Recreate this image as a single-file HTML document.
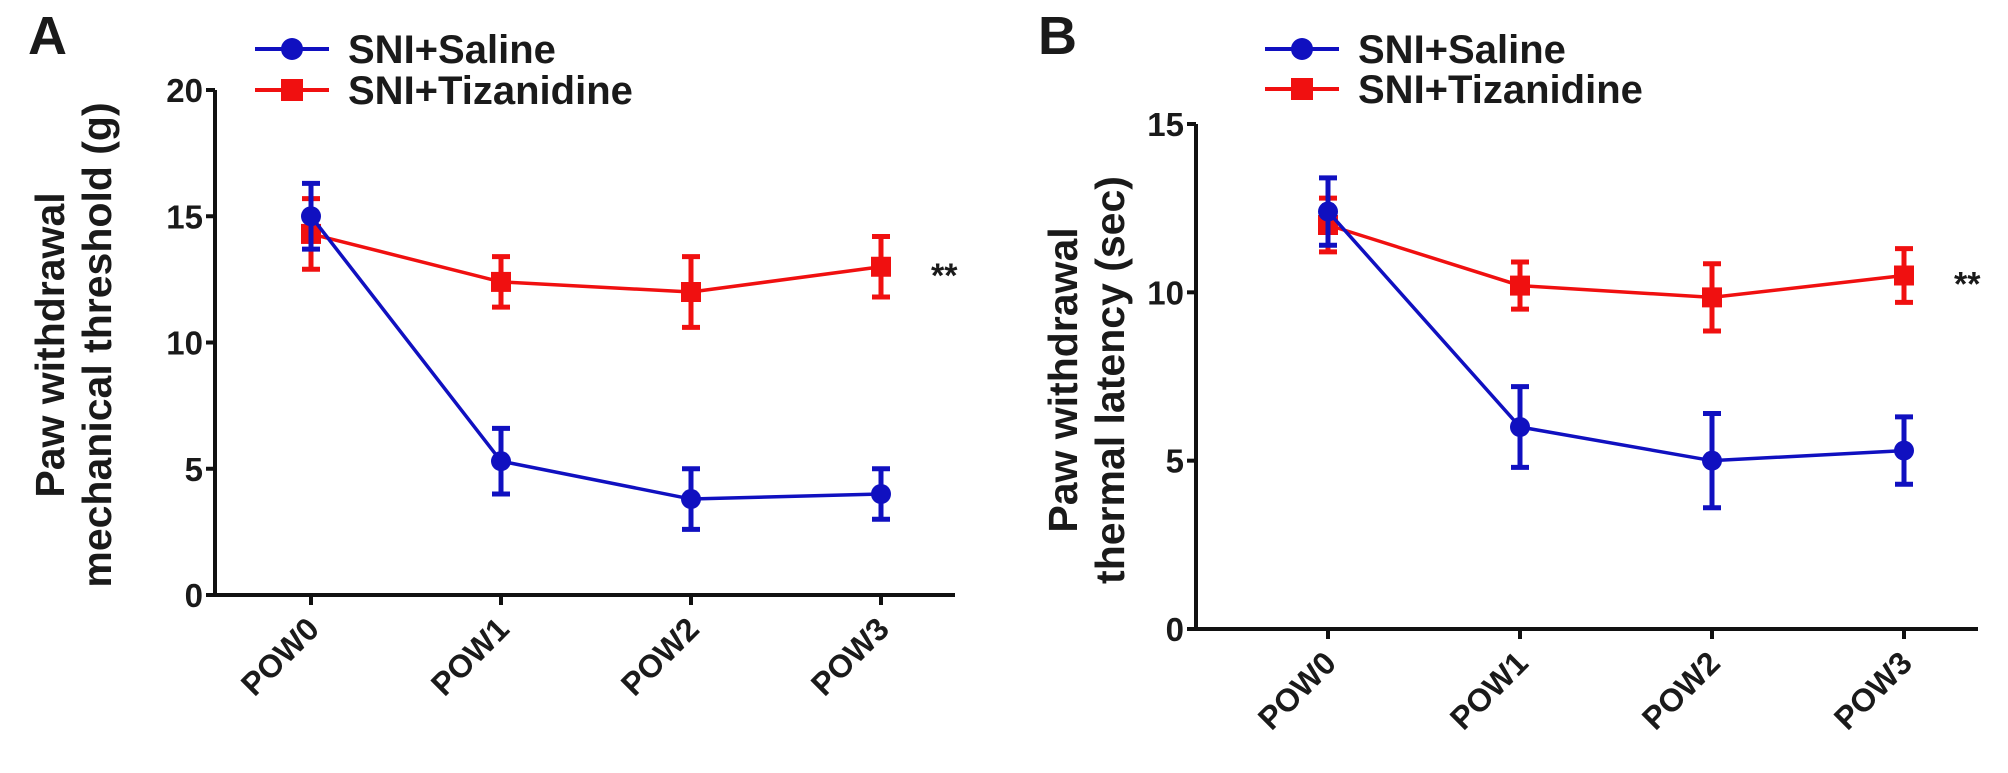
<!DOCTYPE html>
<html><head><meta charset="utf-8"><style>
body{margin:0;background:#fff;width:2008px;height:768px;overflow:hidden}
svg text{font-family:"Liberation Sans",Arial,sans-serif;font-weight:bold;fill:#1a1a1a}
</style></head><body>
<svg id="chart" width="2008" height="768" viewBox="0 0 2008 768" xmlns="http://www.w3.org/2000/svg"></svg>
<script>
const categories = ["POW0","POW1","POW2","POW3"];
const seriesNames = ["SNI+Saline","SNI+Tizanidine"];
const aSaline = [15.0, 5.3, 3.8, 4.0];
const aSalineErr = [1.3, 1.3, 1.2, 1.0];
const aTiz = [14.3, 12.4, 12.0, 13.0];
const aTizErr = [1.4, 1.0, 1.4, 1.2];
const aTicks = [0,5,10,15,20];
const bSaline = [12.4, 6.0, 5.0, 5.3];
const bSalineErr = [1.0, 1.2, 1.4, 1.0];
const bTiz = [12.0, 10.2, 9.85, 10.5];
const bTizErr = [0.8, 0.7, 1.0, 0.8];
const bTicks = [0,5,10,15];

const svg = document.getElementById('chart');
const NS = "http://www.w3.org/2000/svg";
function mk(tag, attrs, parent){
  const e = document.createElementNS(NS, tag);
  for (const k in attrs) e.setAttribute(k, attrs[k]);
  (parent||svg).appendChild(e);
  return e;
}
const BLUE="#1010c0", RED="#f01010";

function panel(cfg){
  const g = mk('g', {});
  
  
  const y = v => cfg.y0 - (v - 0) / cfg.ymax * (cfg.y0 - cfg.yTop);
  const x = i => cfg.xs0 + i * cfg.dx;
  const ya = mk('line', {x1:cfg.ax, y1:cfg.yTop, x2:cfg.ax, y2:cfg.y0, stroke:'#111','stroke-width':4}, g);
  
  
  const xa = mk('line', {x1:cfg.ax-2, y1:cfg.y0, x2:cfg.xEnd, y2:cfg.y0, stroke:'#111','stroke-width':4}, g);
  
  
  cfg.ticks.forEach(t => {
    mk('line', {x1:cfg.ax-9, y1:y(t), x2:cfg.ax, y2:y(t), stroke:'#111','stroke-width':4}, g);
    const tl = mk('text', {x:cfg.ax-12, y:y(t)+12, 'text-anchor':'end','font-size':33}, g);
    tl.textContent = t;
    
    
  });
  categories.forEach((c,i) => {
    mk('line', {x1:x(i), y1:cfg.y0, x2:x(i), y2:cfg.y0+10, stroke:'#111','stroke-width':4}, g);
    const xl = mk('text', {x:x(i)+10, y:cfg.y0+36, 'text-anchor':'end','font-size':32, transform:`rotate(-45 ${x(i)+10} ${cfg.y0+36})`}, g);
    xl.textContent = c;
    
    
  });
  const tt = mk('text', {transform:`translate(${cfg.tx} ${cfg.ty}) rotate(-90)`, 'text-anchor':'middle','font-size':41}, g);
  
  
  const s1 = mk('tspan', {x:0, y:0}, tt); s1.textContent = cfg.title[0];
  const s2 = mk('tspan', {x:0, y:47}, tt); s2.textContent = cfg.title[1];
  const L = mk('text', {x:cfg.lx, y:54, 'font-size':54}, g);
  L.textContent = cfg.letter;
  
  
  function series(vals, errs, color, shape, name){
    const sg = mk('g', {}, g);
    
    
    mk('polyline', {points: vals.map((v,i)=>x(i)+','+y(v)).join(' '), fill:'none', stroke:color, 'stroke-width':3.5}, sg);
    vals.forEach((v,i) => {
      const e1 = y(v+errs[i]), e2 = y(v-errs[i]);
      mk('line', {x1:x(i), y1:e1, x2:x(i), y2:e2, stroke:color,'stroke-width':5}, sg);
      mk('line', {x1:x(i)-9, y1:e1, x2:x(i)+9, y2:e1, stroke:color,'stroke-width':5}, sg);
      mk('line', {x1:x(i)-9, y1:e2, x2:x(i)+9, y2:e2, stroke:color,'stroke-width':5}, sg);
      let m;
      if (shape==='c') m = mk('circle', {cx:x(i), cy:y(v), r:10, fill:color}, sg);
      else m = mk('rect', {x:x(i)-10, y:y(v)-10, width:20, height:20, fill:color}, sg);
      
      
    });
  }
  series(cfg.tiz, cfg.tizErr, RED, 's', 'series-tizanidine');
  series(cfg.sal, cfg.salErr, BLUE, 'c', 'series-saline');
  const st = mk('text', {x:x(3)+50, y:y(cfg.tiz[3])+20, 'font-size':34}, g);
  st.textContent = '**';
  
  
  [[BLUE,'c',seriesNames[0],cfg.ly1],[RED,'s',seriesNames[1],cfg.ly2]].forEach(([col,sh,nm,ly]) => {
    const lg = mk('g', {}, g);
    
    
    mk('line', {x1:cfg.lgx-37, y1:ly, x2:cfg.lgx+37, y2:ly, stroke:col,'stroke-width':4}, lg);
    if (sh==='c') mk('circle', {cx:cfg.lgx, cy:ly, r:11, fill:col}, lg);
    else mk('rect', {x:cfg.lgx-11, y:ly-11, width:22, height:22, fill:col}, lg);
    const t = mk('text', {x:cfg.lgx+56, y:ly+14, 'font-size':40}, lg);
    t.textContent = nm;
  });
}
panel({id:'panel-a', letter:'A', lx:28, ax:215, yTop:90, y0:595, ymax:20, ticks:aTicks,
  xs0:311, dx:190, xEnd:955, tx:64, ty:345,
  title:['Paw withdrawal','mechanical threshold (g)'],
  sal:aSaline, salErr:aSalineErr, tiz:aTiz, tizErr:aTizErr, lgx:292, ly1:49, ly2:90});
panel({id:'panel-b', letter:'B', lx:1038, ax:1196, yTop:124, y0:629, ymax:15, ticks:bTicks,
  xs0:1328, dx:192, xEnd:1978, tx:1077, ty:380,
  title:['Paw withdrawal','thermal latency (sec)'],
  sal:bSaline, salErr:bSalineErr, tiz:bTiz, tizErr:bTizErr, lgx:1302, ly1:49, ly2:89});
</script>
</body></html>
